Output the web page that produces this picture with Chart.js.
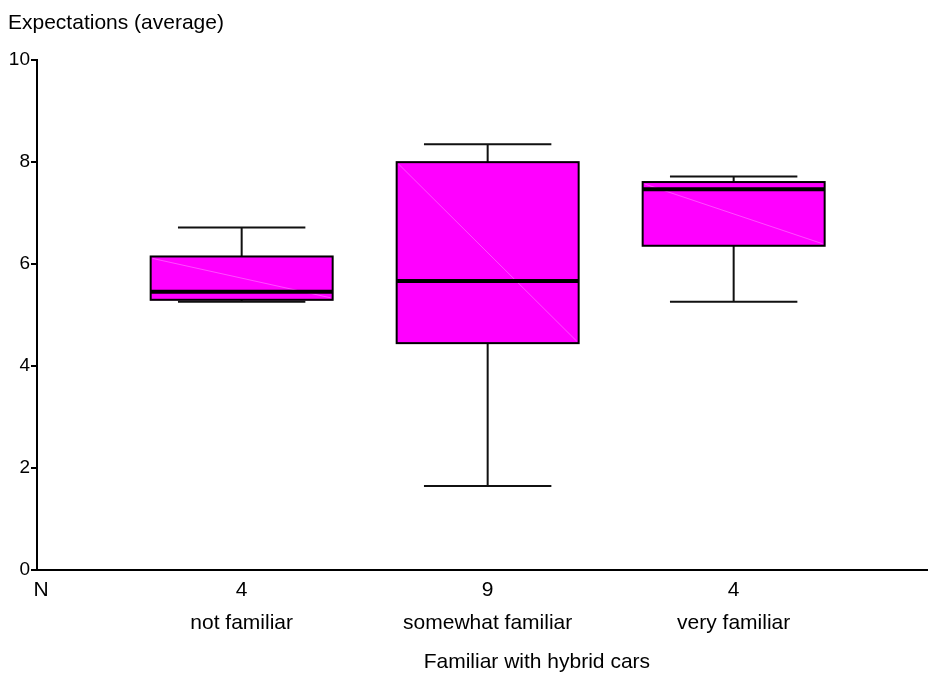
<!DOCTYPE html>
<html>
<head>
<meta charset="utf-8">
<title>Expectations by familiarity with hybrid cars</title>
<script src="https://cdn.jsdelivr.net/npm/chart.js@4.4.1/dist/chart.umd.min.js"></script>
<style>
  html, body { margin: 0; padding: 0; background: #fff; }
  #wrap { width: 928px; height: 675px; }
</style>
</head>
<body>
<div id="wrap"><canvas id="chart" width="928" height="675"></canvas></div>
<script>
// Groups on the horizontal axis and the number of respondents in each
const categories = ['not familiar', 'somewhat familiar', 'very familiar'];
const counts = [4, 9, 4];
const positions = [1, 2, 3];

// Five-number summaries of the average expectation score
const whiskerLow  = [5.26, 1.65, 5.26];
const q1          = [5.30, 4.45, 6.36];
const median      = [5.46, 5.67, 7.47];
const q3          = [6.15, 8.00, 7.61];
const whiskerHigh = [6.72, 8.35, 7.72];

// Axis settings
const yTicks = [0, 2, 4, 6, 8, 10];
const xMin = 0.168, xMax = 3.79;
const nLabelValue = 0.185;      // where the "N" row label sits
const axisTitleValue = 2.2;     // horizontal anchor of the axis title

const FONT = 'Liberation Sans, Arial, Helvetica, sans-serif';
const FS = 21;       // titles and category labels
const FS_TICK = 19;  // value axis numbers

// Whiskers, caps, median and the faint diagonal inside each box
const boxWhiskers = {
  id: 'boxWhiskers',
  afterDatasetsDraw(chart) {
    const { ctx, scales: { x, y } } = chart;
    const meta = chart.getDatasetMeta(0);
    meta.data.forEach((bar, i) => {
      const cx = x.getPixelForValue(positions[i]);
      const half = bar.width / 2;
      const capHalf = bar.width * 0.35;
      const yQ3 = y.getPixelForValue(q3[i]);
      const yQ1 = y.getPixelForValue(q1[i]);
      const yMed = y.getPixelForValue(median[i]);
      const yHi = y.getPixelForValue(whiskerHigh[i]);
      const yLo = y.getPixelForValue(whiskerLow[i]);
      ctx.save();
      // faint diagonal across the box
      ctx.strokeStyle = 'rgba(255,255,255,0.3)';
      ctx.lineWidth = 1;
      ctx.beginPath();
      ctx.moveTo(cx - half + 2, yQ3 + 2);
      ctx.lineTo(cx + half - 2, yQ1 - 2);
      ctx.stroke();
      // whiskers
      ctx.strokeStyle = '#111';
      ctx.lineWidth = 2;
      ctx.beginPath();
      ctx.moveTo(cx, yQ3); ctx.lineTo(cx, yHi);
      ctx.moveTo(cx, yQ1); ctx.lineTo(cx, yLo);
      ctx.moveTo(cx - capHalf, yHi); ctx.lineTo(cx + capHalf, yHi);
      ctx.moveTo(cx - capHalf, yLo); ctx.lineTo(cx + capHalf, yLo);
      ctx.stroke();
      // box outline on top of the diagonal
      ctx.strokeStyle = '#000';
      ctx.lineWidth = 2;
      ctx.strokeRect(cx - half, yQ3, bar.width, yQ1 - yQ3);
      // median
      ctx.lineWidth = 4;
      ctx.beginPath();
      ctx.moveTo(cx - half, yMed); ctx.lineTo(cx + half, yMed);
      ctx.stroke();
      ctx.restore();
    });
  },
  afterDraw(chart) {
    const { ctx, scales: { x } } = chart;
    ctx.save();
    ctx.fillStyle = '#000';
    ctx.font = FS + 'px ' + FONT;
    ctx.textAlign = 'center';
    ctx.textBaseline = 'middle';
    ctx.fillText('Familiar with hybrid cars', x.getPixelForValue(axisTitleValue), x.bottom + 22);
    ctx.restore();
  }
};

new Chart(document.getElementById('chart'), {
  type: 'bar',
  data: {
    datasets: [{
      data: positions.map((p, i) => ({ x: p, y: [q1[i], q3[i]] })),
      backgroundColor: '#ff00ff',
      borderColor: '#000',
      borderWidth: 0,
      borderSkipped: false,
      barThickness: 182
    }]
  },
  options: {
    responsive: false,
    animation: false,
    events: [],
    layout: { padding: { left: 8, right: 0, top: 0, bottom: 35 } },
    plugins: {
      legend: { display: false },
      tooltip: { enabled: false },
      title: {
        display: true,
        text: 'Expectations (average)',
        align: 'start',
        color: '#000',
        font: { family: FONT, size: FS, weight: 'normal', lineHeight: 1.2 },
        padding: { top: 11, bottom: 24 }
      }
    },
    scales: {
      x: {
        type: 'linear',
        offset: false,
        min: xMin,
        max: xMax,
        afterBuildTicks(scale) {
          scale.ticks = [{ value: nLabelValue }].concat(positions.map(v => ({ value: v })));
        },
        afterFit(scale) { scale.height = 70; },
        grid: { display: false, drawTicks: false, offset: false },
        border: { display: true, color: '#000', width: 2 },
        ticks: {
          color: '#000',
          padding: 4,
          maxRotation: 0,
          autoSkip: false,
          font: { family: FONT, size: FS, lineHeight: 33 / FS },
          callback(value) {
            if (value === nLabelValue) return 'N';
            const i = positions.indexOf(value);
            return i < 0 ? '' : [String(counts[i]), categories[i]];
          }
        }
      },
      y: {
        min: 0,
        max: 10,
        afterBuildTicks(scale) { scale.ticks = yTicks.map(v => ({ value: v })); },
        afterFit(scale) { scale.width = 29; },
        grid: {
          display: true,
          drawOnChartArea: false,
          drawTicks: true,
          tickLength: 6,
          color: '#000',
          lineWidth: 2
        },
        border: { display: true, color: '#000', width: 2 },
        ticks: {
          color: '#000',
          padding: 1,
          font: { family: FONT, size: FS_TICK }
        }
      }
    }
  },
  plugins: [boxWhiskers]
});
</script>
</body>
</html>
